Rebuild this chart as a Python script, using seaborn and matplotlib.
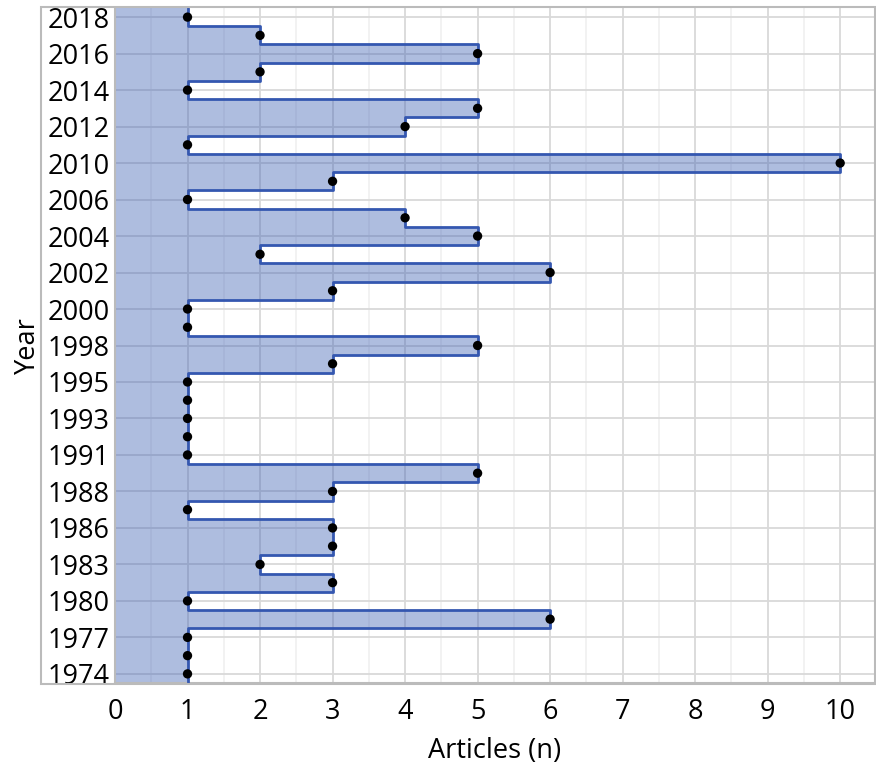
import numpy as np
import pandas as pd
import matplotlib.pyplot as plt
import seaborn as sns
from matplotlib.patches import Rectangle
from matplotlib.ticker import MultipleLocator

years = [1974, 1976, 1977, 1979, 1980, 1982, 1983, 1985, 1986, 1987,
         1988, 1990, 1991, 1992, 1993, 1994, 1995, 1997, 1998, 1999,
         2000, 2001, 2002, 2003, 2004, 2005, 2006, 2008, 2010, 2011,
         2012, 2013, 2014, 2015, 2016, 2017, 2018]
articles = [1, 1, 1, 6, 1, 3, 2, 3, 3, 1,
            3, 5, 1, 1, 1, 1, 1, 3, 5, 1,
            1, 3, 6, 2, 5, 4, 1, 3, 10, 1,
            4, 5, 1, 2, 5, 2, 1]

df = pd.DataFrame({'year': years, 'articles': articles})
df['pos'] = np.arange(len(df))

sns.set_style('white')
plt.rcParams['font.family'] = ['Open Sans', 'DejaVu Sans']
plt.rcParams['text.color'] = 'black'
plt.rcParams['axes.labelcolor'] = 'black'
plt.rcParams['xtick.labelcolor'] = 'black'
plt.rcParams['ytick.labelcolor'] = 'black'

fig = plt.figure(figsize=(8.76, 7.65), dpi=100)
ax = fig.add_axes([115 / 876, 1 - 683 / 765, 760 / 876, 675 / 765])

# step outline: each year is a band one row tall
ys = np.column_stack([df['pos'] - 0.5, df['pos'] + 0.5]).ravel()
xs = np.repeat(df['articles'].values, 2)

ax.fill_betweenx(ys, 0, xs, color='#3f62b5', alpha=0.42, linewidth=0, zorder=2)
ax.plot(xs, ys, color='#3457b0', linewidth=2.0, zorder=3)
sns.scatterplot(data=df, x='articles', y='pos', color='black', s=45,
                edgecolor='none', ax=ax, zorder=4)

ax.set_xlim(0, 10.48)
ax.set_ylim(-0.5, len(df) - 0.5)
ax.xaxis.set_major_locator(MultipleLocator(1))
ax.xaxis.set_minor_locator(MultipleLocator(0.5))
ax.set_yticks(df['pos'].values[::2])
ax.set_yticklabels([str(y) for y in df['year'].values[::2]])

ax.grid(True, which='major', axis='both', color='#d9d9d9', linewidth=1.3, zorder=0)
ax.grid(True, which='minor', axis='x', color='#f0f0f0', linewidth=1.2, zorder=0)
ax.set_axisbelow(True)

ax.tick_params(axis='x', which='major', direction='in', length=6, width=1,
               color='#999999', labelsize=19.5, pad=11)
ax.tick_params(axis='x', which='minor', direction='in', length=4, width=1,
               color='#999999')
ax.tick_params(axis='y', length=0, labelsize=19.5, pad=4)

for side in ['top', 'right']:
    ax.spines[side].set_visible(False)
for side in ['left', 'bottom']:
    ax.spines[side].set_color('#bbbbbb')
    ax.spines[side].set_linewidth(1.5)

ax.set_xlabel('Articles (n)', fontsize=19.5, labelpad=8)
ax.set_ylabel('Year', fontsize=19.5, labelpad=4)

# outer frame around the graph including the year labels
fig.patches.append(Rectangle((41 / 876, 1 - 684 / 765), 834 / 876, 677 / 765,
                             transform=fig.transFigure, fill=False,
                             edgecolor='#bbbbbb', linewidth=1.5, zorder=5))

fig.savefig('out.png', dpi=100)
